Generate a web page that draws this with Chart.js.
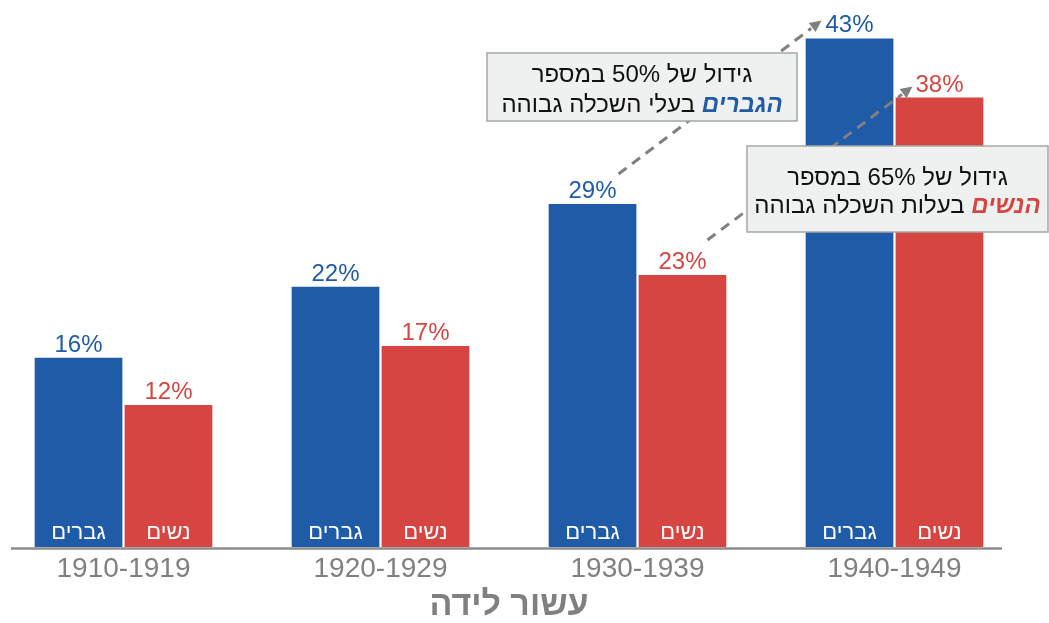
<!DOCTYPE html>
<html lang="he">
<head>
<meta charset="utf-8">
<script src="https://cdn.jsdelivr.net/npm/chart.js@4.4.1/dist/chart.umd.min.js"></script>
<style>
    html, body { margin: 0; padding: 0; background: #fff; }
    #wrap { position: relative; width: 1049px; height: 623px; overflow: hidden; }
    #chart { position: absolute; left: -10px; top: 0; }
</style>
</head>
<body>
<div id="wrap">
    <canvas id="chart" width="1070" height="623"></canvas>
</div>
<script>
// DATA
const decades = ['1910-1919', '1920-1929', '1930-1939', '1940-1949'];
const menValues = [16, 22, 29, 43];
const womenValues = [12, 17, 23, 38];
const seriesNames = ['גברים', 'נשים'];
const axisTitle = 'עשור לידה';
const yMax = 46;

const menNote = ['גידול של 50% במספר', 'הגברים', 'בעלי השכלה גבוהה'];
const womenNote = ['גידול של 65% במספר', 'הנשים', 'בעלות השכלה גבוהה'];

const BLUE = '#1f5ba6';
const RED = '#d64541';
const FONT = '"Liberation Sans", Arial, sans-serif';

// dashed arrow between two points
function drawArrow(ctx, x1, y1, x2, y2) {
    const ang = Math.atan2(y2 - y1, x2 - x1);
    const head = 13;
    ctx.save();
    ctx.strokeStyle = '#808080';
    ctx.fillStyle = '#808080';
    ctx.lineWidth = 3;
    ctx.setLineDash([10, 7]);
    ctx.beginPath();
    ctx.moveTo(x1, y1);
    ctx.lineTo(x2 - Math.cos(ang) * head, y2 - Math.sin(ang) * head);
    ctx.stroke();
    ctx.setLineDash([]);
    ctx.beginPath();
    ctx.moveTo(x2, y2);
    ctx.lineTo(x2 - head * Math.cos(ang - 0.45), y2 - head * Math.sin(ang - 0.45));
    ctx.lineTo(x2 - head * Math.cos(ang + 0.45), y2 - head * Math.sin(ang + 0.45));
    ctx.closePath();
    ctx.fill();
    ctx.restore();
}

// note box, two lines, second line starts with a coloured bold italic word
function drawNote(ctx, box, lines, color) {
    ctx.save();
    ctx.fillStyle = '#eff0f0';
    ctx.strokeStyle = '#a6a6a6';
    ctx.lineWidth = 1.5;
    ctx.fillRect(box.x, box.y, box.w, box.h);
    ctx.strokeRect(box.x, box.y, box.w, box.h);

    const cx = box.x + box.w / 2;
    ctx.direction = 'rtl';
    ctx.textBaseline = 'alphabetic';
    ctx.fillStyle = '#111';
    ctx.font = '24px ' + FONT;
    ctx.textAlign = 'center';
    ctx.fillText(lines[0], cx, box.y + box.line1);

    const boldFont = 'italic bold 24px ' + FONT;
    const plainFont = '24px ' + FONT;
    ctx.font = boldFont;
    const w1 = ctx.measureText(lines[1]).width;
    ctx.font = plainFont;
    const gap = ctx.measureText(' ').width;
    const w2 = ctx.measureText(lines[2]).width;
    const right = cx + (w1 + gap + w2) / 2;
    ctx.textAlign = 'right';
    ctx.font = boldFont;
    ctx.fillStyle = color;
    ctx.fillText(lines[1], right, box.y + box.line2);
    ctx.font = plainFont;
    ctx.fillStyle = '#111';
    ctx.fillText(lines[2], right - w1 - gap, box.y + box.line2);
    ctx.restore();
}

const overlayPlugin = {
    id: 'overlay',
    afterDatasetsDraw(chart) {
        const ctx = chart.ctx;
        const area = chart.chartArea;

        // x axis line
        ctx.save();
        ctx.strokeStyle = '#8c8c8c';
        ctx.lineWidth = 2.5;
        ctx.beginPath();
        ctx.moveTo(area.left + 16, area.bottom + 1.5);
        ctx.lineTo(area.right - 21, area.bottom + 1.5);
        ctx.stroke();
        ctx.restore();

        // value labels and names inside the bars
        chart.data.datasets.forEach((ds, i) => {
            const meta = chart.getDatasetMeta(i);
            meta.data.forEach((bar, j) => {
                ctx.save();
                ctx.textAlign = 'center';
                ctx.textBaseline = 'alphabetic';
                ctx.fillStyle = ds.backgroundColor;
                ctx.font = '24px ' + FONT;
                ctx.fillText(ds.data[j] + '%', bar.x, bar.y - 6);
                ctx.direction = 'rtl';
                ctx.fillStyle = '#fff';
                ctx.font = '22px ' + FONT;
                ctx.fillText(seriesNames[i], bar.x, bar.base - 8);
                ctx.restore();
            });
        });

        // arrows from 1930s to 1940s labels
        const m3 = chart.getDatasetMeta(0).data[2];
        const m4 = chart.getDatasetMeta(0).data[3];
        const w3 = chart.getDatasetMeta(1).data[2];
        const w4 = chart.getDatasetMeta(1).data[3];
        drawArrow(ctx, m3.x + 26, m3.y - 30, m4.x - 28, m4.y - 18);
        drawArrow(ctx, w3.x + 25, w3.y - 35, w4.x - 27, w4.y - 11);

        // note boxes (canvas is shifted 10px left of the page)
        drawNote(ctx, { x: 497, y: 53, w: 310, h: 68, line1: 29, line2: 59 }, menNote, BLUE);
        drawNote(ctx, { x: 757, y: 146, w: 301, h: 86, line1: 39, line2: 67 }, womenNote, RED);
    }
};

new Chart(document.getElementById('chart'), {
    type: 'bar',
    data: {
        labels: decades,
        datasets: [
            {
                label: seriesNames[0],
                data: menValues,
                backgroundColor: BLUE,
                categoryPercentage: 0.7,
                barPercentage: 0.975
            },
            {
                label: seriesNames[1],
                data: womenValues,
                backgroundColor: RED,
                categoryPercentage: 0.7,
                barPercentage: 0.975
            }
        ]
    },
    options: {
        responsive: false,
        animation: false,
        layout: { padding: { left: 5, right: 37, top: 3, bottom: 0 } },
        plugins: {
            legend: { display: false },
            tooltip: { enabled: false }
        },
        scales: {
            x: {
                grid: { display: false, drawTicks: false },
                border: { display: false },
                afterFit(scale) { scale.height = 76; },
                ticks: {
                    color: '#808080',
                    font: { family: FONT, size: 28, lineHeight: 1.0 },
                    padding: 8
                },
                title: {
                    display: true,
                    text: axisTitle,
                    color: '#808080',
                    font: { family: FONT, size: 34, weight: 'bold', lineHeight: 1.0 },
                    padding: { top: 0, bottom: 0 }
                }
            },
            y: {
                display: false,
                min: 0,
                max: yMax
            }
        }
    },
    plugins: [overlayPlugin]
});
</script>
</body>
</html>
